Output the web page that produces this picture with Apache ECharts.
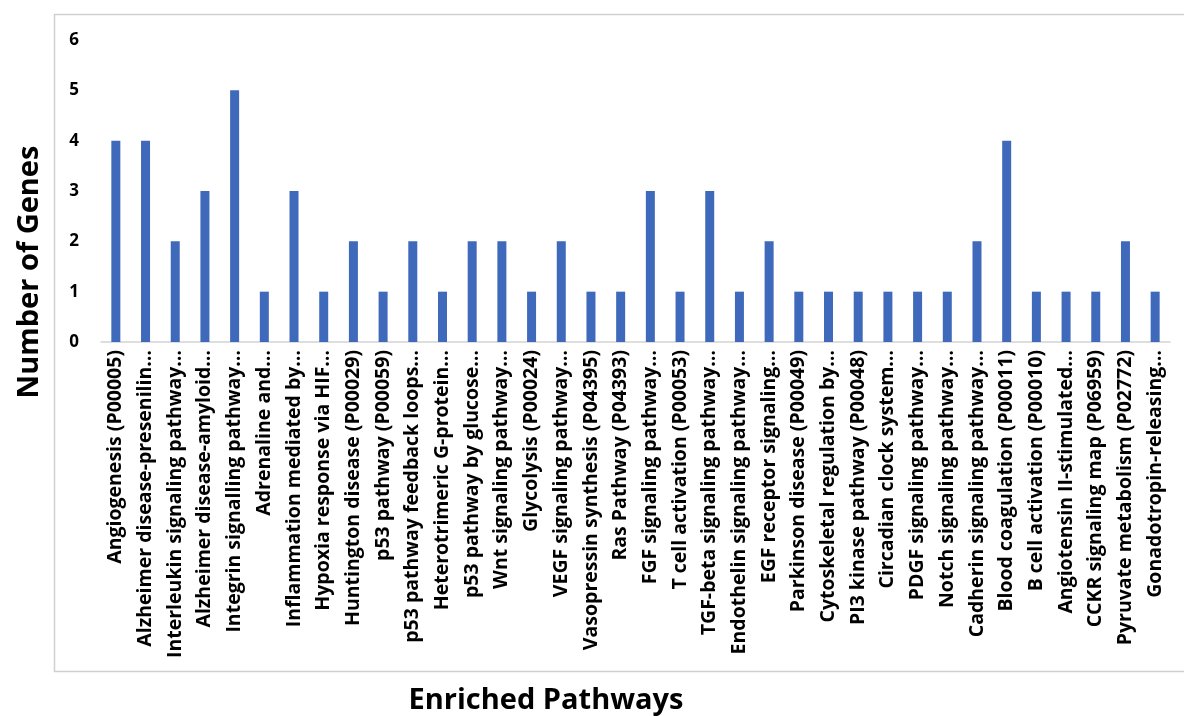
<!DOCTYPE html>
<html>
<head>
<meta charset="utf-8">
<script src="https://cdn.jsdelivr.net/npm/echarts@6/dist/echarts.min.js"></script>
<style>
  html, body { margin: 0; padding: 0; background: #fff; }
  #chart { width: 1184px; height: 716px; }
</style>
</head>
<body>
<div id="chart"></div>
<script>
const pathways = [
  'Angiogenesis (P00005)',
  'Alzheimer disease-presenilin…',
  'Interleukin signaling pathway…',
  'Alzheimer disease-amyloid…',
  'Integrin signalling pathway…',
  'Adrenaline and…',
  'Inflammation mediated by…',
  'Hypoxia response via HIF…',
  'Huntington disease (P00029)',
  'p53 pathway (P00059)',
  'p53 pathway feedback loops…',
  'Heterotrimeric G-protein…',
  'p53 pathway by glucose…',
  'Wnt signaling pathway…',
  'Glycolysis (P00024)',
  'VEGF signaling pathway…',
  'Vasopressin synthesis (P04395)',
  'Ras Pathway (P04393)',
  'FGF signaling pathway…',
  'T cell activation (P00053)',
  'TGF-beta signaling pathway…',
  'Endothelin signaling pathway…',
  'EGF receptor signaling…',
  'Parkinson disease (P00049)',
  'Cytoskeletal regulation by…',
  'PI3 kinase pathway (P00048)',
  'Circadian clock system…',
  'PDGF signaling pathway…',
  'Notch signaling pathway…',
  'Cadherin signaling pathway…',
  'Blood coagulation (P00011)',
  'B cell activation (P00010)',
  'Angiotensin II-stimulated…',
  'CCKR signaling map (P06959)',
  'Pyruvate metabolism (P02772)',
  'Gonadotropin-releasing…'
]

const geneCounts = [
  4, 4, 2, 3, 5, 1, 3, 1, 2, 1, 2, 1, 2, 2, 1, 2, 1, 1,
  3, 1, 3, 1, 2, 1, 1, 1, 1, 1, 1, 2, 4, 1, 1, 1, 2, 1
]

const yTicks = [0, 1, 2, 3, 4, 5, 6]

const font = "'Open Sans', 'Noto Sans', sans-serif"

const chart = echarts.init(document.getElementById('chart'))

chart.setOption({
  animation: false,
  grid: { left: 101, right: 14, top: 40, bottom: 374 },
  graphic: [
    {
      type: 'rect',
      shape: { x: 54.5, y: 14.5, width: 1140, height: 657 },
      style: { fill: 'none', stroke: '#d0d0d0', lineWidth: 1.5 },
      silent: true
    },
    {
      type: 'text',
      x: 30, y: 272, rotation: Math.PI / 2,
      style: {
        text: 'Number of Genes', font: "bold 29px " + font,
        fill: '#000', align: 'center', verticalAlign: 'middle'
      }
    },
    {
      type: 'text',
      x: 546, y: 701,
      style: {
        text: 'Enriched Pathways', font: "bold 29px " + font,
        fill: '#000', align: 'center', verticalAlign: 'middle'
      }
    }
  ],
  xAxis: {
    type: 'category',
    data: pathways,
    axisLine: { lineStyle: { color: '#d4d4d4', width: 1.5 } },
    axisTick: { show: false },
    axisLabel: {
      interval: 0,
      rotate: 90,
      margin: 8,
      color: '#000',
      fontSize: 19.5,
      fontWeight: 'bold',
      fontFamily: font
    }
  },
  yAxis: {
    type: 'value',
    min: yTicks[0],
    max: yTicks[yTicks.length - 1],
    interval: 1,
    splitLine: { show: false },
    axisLine: { show: false },
    axisTick: { show: false },
    axisLabel: {
      margin: 22,
      color: '#000',
      fontSize: 17,
      fontWeight: 'bold',
      fontFamily: font
    }
  },
  series: [
    {
      type: 'bar',
      data: geneCounts,
      barWidth: 9,
      itemStyle: { color: '#3f69bb' }
    }
  ]
})
</script>
</body>
</html>
